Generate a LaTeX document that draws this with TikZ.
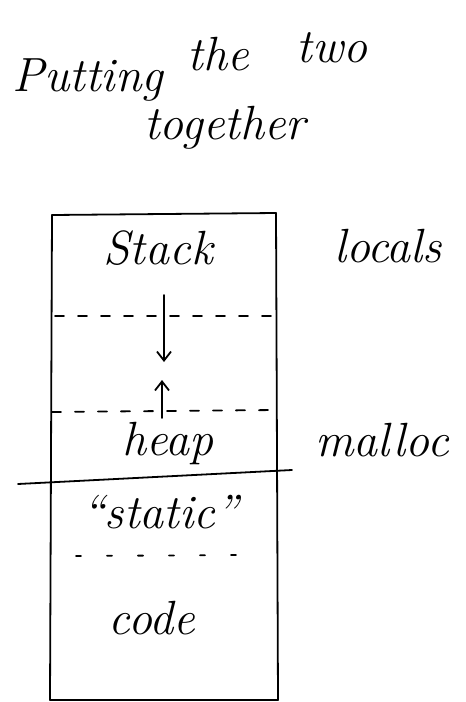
\documentclass[tikz,border=0pt]{standalone}
\usetikzlibrary{arrows.meta}
\begin{document}
\begin{tikzpicture}[x=1pt,y=-1pt,
  ink/.style={line width=1.8pt,line cap=round,line join=round},
  seg/.style={ink,dash pattern=on 9pt off 14pt},
  lbl/.style={font=\fontsize{48}{52}\selectfont\itshape,inner sep=0pt},
  arr/.style={ink,-{Straight Barb[length=9pt,width=14pt]}}]
\useasboundingbox[fill=white] (0,0) rectangle (466,702);
% title
\node[lbl] (t1) at (88,80) {Putting};
\node[lbl] (t2) at (218,54) {the};
\node[lbl] (t3) at (332,48) {two};
\node[lbl] (t4) at (225,128) {together};
% box
\coordinate (tl) at (52,215);
\coordinate (tr) at (276,213);
\coordinate (bl) at (50,700);
\coordinate (br) at (278,700);
\draw[ink] (tl) -- (tr);
\draw[ink] (tl) -- (bl) -- (br) -- (tr);
% dashed separators
\coordinate (d1l) at (55,316);
\coordinate (d1r) at (274,316);
\draw[seg] (d1l) -- (d1r);
\coordinate (d2l) at (52,412);
\coordinate (d2r) at (276,410);
\draw[seg] (d2l) -- (d2r);
% solid separator
\coordinate (sl) at (18,484);
\coordinate (sr) at (292,470);
\draw[ink] (sl) -- (sr);
% dotted separator
\coordinate (ol) at (76,556);
\coordinate (or) at (243,555);
\draw[ink,dash pattern=on 5pt off 26pt] (ol) -- (or);
% labels
\node[lbl] (stack) at (158,248) {Stack};
\node[lbl] (locals) at (388,246) {locals};
\node[lbl] (heap) at (168,443) {heap};
\node[lbl] (malloc) at (382,440) {malloc};
\node[lbl] (static) at (160,512) {``static''};
\node[lbl] (code) at (152,618) {code};
% arrows
\coordinate (a1s) at (164,295);
\coordinate (a1e) at (164,362);
\draw[arr] (a1s) -- (a1e);
\coordinate (a2s) at (162,418);
\coordinate (a2e) at (162,380);
\draw[arr] (a2s) -- (a2e);
\end{tikzpicture}
\end{document}
